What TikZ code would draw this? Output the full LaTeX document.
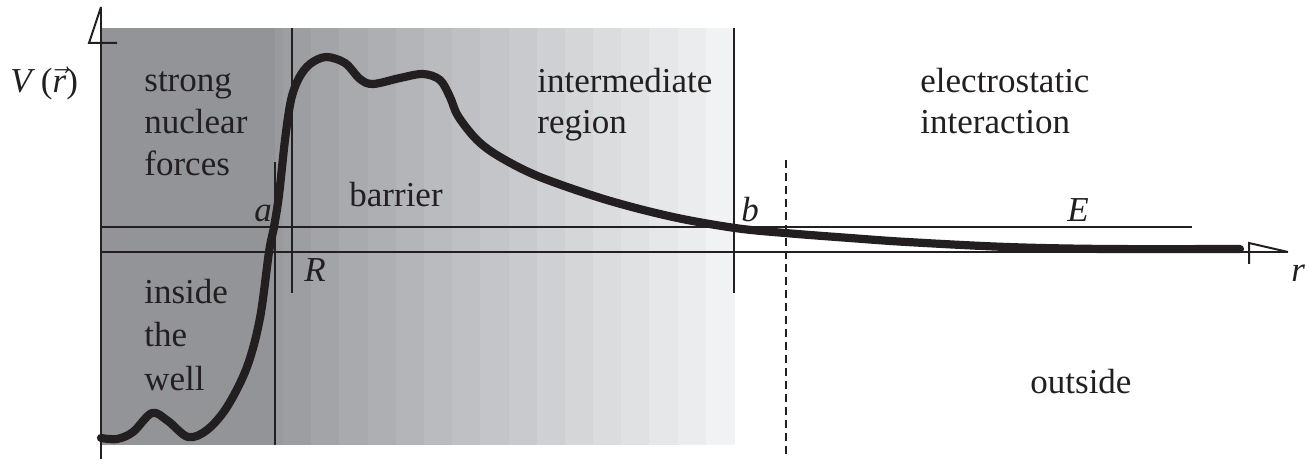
\documentclass[tikz,border=0pt]{standalone}
\usepackage{fontspec}
\setmainfont{Liberation Serif}
\definecolor{ink}{RGB}{35,31,32}
\definecolor{darkg}{RGB}{147,148,152}
\definecolor{lightg}{RGB}{241,242,244}
\begin{document}
\begin{tikzpicture}[x=0.5pt,y=-0.5pt,
  lbl/.style={inner sep=0pt, anchor=base west, text=ink, font=\fontsize{17.5}{21}\selectfont},
  ital/.style={lbl, font=\fontsize{17.5}{21}\selectfont\itshape},
  thinline/.style={line width=1pt, draw=ink},
  curve/.style={line width=4.1pt, draw=ink, line cap=round, line join=round}]
\useasboundingbox (0,0) rectangle (1310,459);
% shading
\fill[darkg] (101,28) rectangle (275.5,445);
\fill[lightg!6!darkg] (275,28) rectangle (283.5,445);
\foreach \i in {1,...,16}{
  \pgfmathsetmacro\xa{283+(\i-1)*28.1875}
  \pgfmathsetmacro\xb{\xa+28.1875+0.5}
  \pgfmathtruncatemacro\p{100*(\i+1)/17}
  \fill[lightg!\p!darkg] (\xa,28) rectangle (\xb,445);
}
% coordinates
\coordinate (yb) at (101,459); \coordinate (yt) at (101,7);
\coordinate (yh1) at (89,43); \coordinate (yh2) at (117,43);
\coordinate (xl) at (101,252); \coordinate (xr) at (1288,252);
\coordinate (xh1) at (1249,243); \coordinate (xh2) at (1249,264);
\coordinate (el) at (101,227); \coordinate (er) at (1192,227);
\coordinate (at) at (275,162); \coordinate (ab) at (275,445);
\coordinate (rt) at (292,28); \coordinate (rb) at (292,293);
\coordinate (bt) at (734,28); \coordinate (bb) at (734,293);
\coordinate (dt) at (786,160); \coordinate (db) at (786,459);
% axes
\draw[thinline] (yb) -- (yt);
\draw[thinline, line join=miter] (yt) -- (yh1) -- (yh2);
\draw[thinline] (xl) -- (xr);
\draw[thinline, line join=miter] (xr) -- (xh1) -- (xh2);
% lines
\draw[thinline] (el) -- (er);
\draw[thinline] (at) -- (ab);
\draw[thinline] (rt) -- (rb);
\draw[thinline] (bt) -- (bb);
\draw[thinline, dash pattern=on 4pt off 2.5pt] (dt) -- (db);
% potential curve
\draw[curve] plot[smooth, tension=0.55] coordinates {
 (101,438) (117,439) (133,432) (152,413) (168,421) (188,437) (207,430)
 (227,407) (247,367) (260,318) (269,252) (274,227) (279,195) (285,140)
 (291,100) (299,78) (310,64) (326,57) (345,63) (360,79) (373,84)
 (400,78) (423,74) (440,80) (450,97) (458,116) (477,140) (500,157)
 (540,177) (607,200) (673,217) (735,228) (785,233) (850,238) (907,242)
 (1007,247) (1107,249) (1240,249)};
% labels
\node[lbl] (V) at (10,93) {\textit{V}\,($\vec{\textit{r}}$)};
\node[lbl] (s1) at (144,92) {strong};
\node[lbl] (s2) at (144,134) {nuclear};
\node[lbl] (s3) at (144,176) {forces};
\node[lbl] (w1) at (144,304) {inside};
\node[lbl] (w2) at (144,347) {the};
\node[lbl] (w3) at (144,390) {well};
\node[lbl] (bar) at (349,207) {barrier};
\node[lbl] (i1) at (537,93) {intermediate};
\node[lbl] (i2) at (537,134) {region};
\node[lbl] (e1) at (920,93) {electrostatic};
\node[lbl] (e2) at (920,134) {interaction};
\node[lbl] (out) at (1030,393) {outside};
\node[ital] (la) at (254,222) {a};
\node[ital] (lR) at (304,282) {R};
\node[ital] (lb) at (741,222) {b};
\node[ital] (lE) at (1067,222) {E};
\node[ital] (lr) at (1291,282) {r};
\end{tikzpicture}
\end{document}
